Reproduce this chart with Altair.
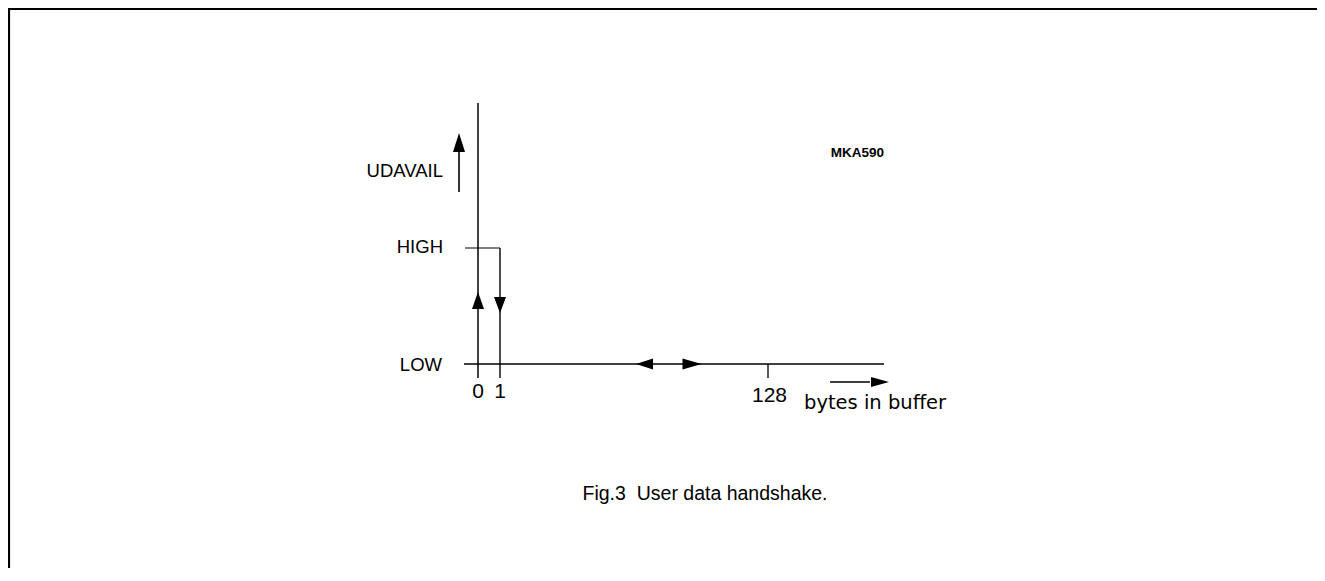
import altair as alt
import pandas as pd

# Diagram frame: x = pixels right of the "0 bytes" line, y = pixels above the LOW level
W, H = 1309, 560
X_LEFT, Y_TOP = 470, 356          # where the diagram origin sits inside the chart

# ---- line segments ----
seg_name = ["udavail_axis", "high_tick", "one_line", "low_line", "tick_128",
            "udavail_arrow", "bytes_arrow", "frame_top", "frame_left"]
seg_x1 = [0, -13, 22, -14, 290, -19, 352, -470, -469]
seg_y1 = [261, 116, 116, 0, 0, 172, -18, 355, 356]
seg_x2 = [0, 22, 22, 406, 290, -19, 392, 839, -469]
seg_y2 = [-14, 116, -14, 0, -14, 218, -18, 355, -204]
seg_w = [1.5, 1.2, 1.4, 1.6, 1.3, 1.6, 1.6, 2.2, 2.2]

# ---- arrow heads ----
head_x = [-19, 0, 22, 166.5, 214, 402]
head_y = [221.5, 63.5, 59, 0, 0, -18]
head_dir = ["up", "up", "down", "left", "right", "right"]
head_len = [19, 17, 16, 17, 19, 18]
head_wid = [12, 12, 12, 11, 11, 10]

# ---- labels ----
cap_text = ["UDAVAIL", "HIGH", "LOW"]
cap_x = [-35, -35, -36]
cap_y = [187, 111, -7]

num_text = ["0", "1", "128"]
num_x = [0, 22, 291.5]
num_y = [-34, -34, -38]

unit_text = ["bytes in buffer"]
unit_x = [326]
unit_y = [-45]

code_text = ["MKA590"]
code_x = [379.5]
code_y = [207]

cap_title = ["Fig.3\u00a0 User data handshake."]
title_x = [227]
title_y = [-136]


def head_path(d, L, Wd):
    a, b = L / 20.0, Wd / 20.0
    if d == "up":
        return f"M0,{-a}L{b},{a}L{-b},{a}Z"
    if d == "down":
        return f"M0,{a}L{b},{-a}L{-b},{-a}Z"
    if d == "left":
        return f"M{-a},0L{a},{-b}L{a},{b}Z"
    return f"M{a},0L{-a},{-b}L{-a},{b}Z"


segs = pd.DataFrame({"name": seg_name, "x": seg_x1, "y": seg_y1,
                     "x2": seg_x2, "y2": seg_y2, "w": seg_w})
heads = pd.DataFrame({"x": head_x, "y": head_y,
                      "shape": [head_path(d, l, w) for d, l, w in zip(head_dir, head_len, head_wid)]})

xs = alt.Scale(domain=[-X_LEFT, W - X_LEFT], nice=False, zero=False)
ys = alt.Scale(domain=[Y_TOP - H, Y_TOP], nice=False, zero=False)
X = lambda f="x": alt.X(f"{f}:Q", scale=xs, axis=None)
Y = lambda f="y": alt.Y(f"{f}:Q", scale=ys, axis=None)

lines = alt.Chart(segs).mark_rule(color="black", strokeCap="butt").encode(
    x=X(), y=Y(), x2="x2:Q", y2="y2:Q",
    strokeWidth=alt.StrokeWidth("w:Q", scale=None),
)

arrows = alt.Chart(heads).mark_point(filled=True, color="black", opacity=1, strokeWidth=0, size=400).encode(
    x=X(), y=Y(), shape=alt.Shape("shape:N", scale=None),
)


def text_layer(txt, xv, yv, align, size, weight="normal", font="Liberation Sans"):
    df = pd.DataFrame({"t": txt, "x": xv, "y": yv})
    return alt.Chart(df).mark_text(align=align, baseline="alphabetic", fontSize=size,
                                   fontWeight=weight, font=font, color="black").encode(
        x=X(), y=Y(), text="t:N")


chart = alt.layer(
    lines,
    arrows,
    text_layer(cap_text, cap_x, cap_y, "right", 18.5),
    text_layer(num_text, num_x, num_y, "center", 21),
    text_layer(unit_text, unit_x, unit_y, "left", 19.5, font="DejaVu Sans"),
    text_layer(code_text, code_x, code_y, "center", 13.5, weight="bold"),
    text_layer(cap_title, title_x, title_y, "center", 19.5),
).properties(width=W, height=H, padding=0, autosize=alt.AutoSizeParams(type="none")
).configure_view(stroke=None)

chart.save("out.html", embed_options={"renderer": "svg", "actions": False})
